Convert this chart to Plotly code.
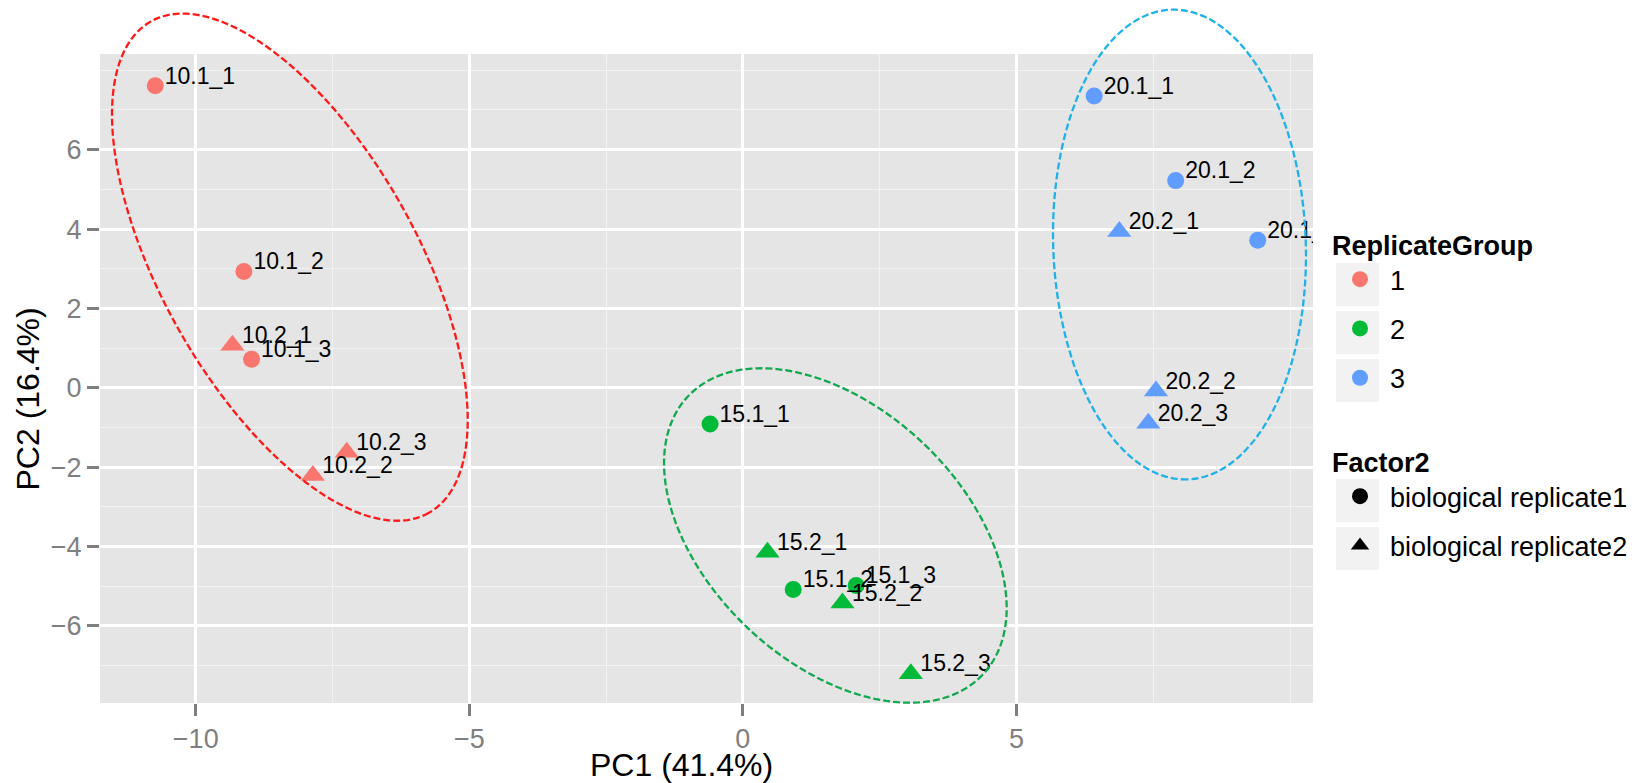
import numpy as np
import plotly.graph_objects as go

# ---------------- data ----------------
sample_names = ["10.1_1", "10.1_2", "10.1_3", "10.2_1", "10.2_2", "10.2_3",
                "15.1_1", "15.1_2", "15.1_3", "15.2_1", "15.2_2", "15.2_3",
                "20.1_1", "20.1_2", "20.1_3", "20.2_1", "20.2_2", "20.2_3"]
pc1 = [-10.74, -9.12, -8.98, -9.33, -7.86, -7.24,
       -0.60, 0.92, 2.07, 0.45, 1.82, 3.07,
       6.42, 7.91, 9.41, 6.88, 7.55, 7.41]
pc2 = [7.61, 2.93, 0.72, 1.07, -2.21, -1.62,
       -0.91, -5.08, -4.98, -4.14, -5.42, -7.20,
       7.35, 5.22, 3.72, 3.94, -0.08, -0.89]
replicate_group = ["1"] * 6 + ["2"] * 6 + ["3"] * 6
factor2 = (["biological replicate1"] * 3 + ["biological replicate2"] * 3) * 3

group_levels = ["1", "2", "3"]
factor_levels = ["biological replicate1", "biological replicate2"]

x_ticks = [-10, -5, 0, 5]
y_ticks = [-6, -4, -2, 0, 2, 4, 6]
x_minor = [-7.5, -2.5, 2.5, 7.5, 10]
y_minor = [-7, -5, -3, -1, 1, 3, 5, 7, 8]

x_title = "PC1 (41.4%)"
y_title = "PC2 (16.4%)"
legend1_title = "ReplicateGroup"
legend2_title = "Factor2"

# hand-drawn group ellipses (centre in PC units)
ellipse_cx = [-8.28, 1.69, 7.98]
ellipse_cy = [3.04, -3.72, 3.61]

# ---------------- style ----------------
FONT = "Liberation Sans, Arial, sans-serif"
group_colors = ["#F8766D", "#00BA38", "#619CFF"]
factor_symbols = ["circle", "triangle-up"]
factor_sizes = [17, 21]
ellipse_colors = ["#FF1A1A", "#12A84E", "#1FB1E8"]
ellipse_a_px = [282.3, 202.7, 235.0]
ellipse_b_px = [127.5, 127.4, 126.3]
ellipse_angle = [60.5, 43.4, 88.0]

W, H = 1651, 783
ML, MR, MT, MB = 100, 338, 54, 80
PW, PH = W - ML - MR, H - MT - MB
XR = [-11.75, 10.42]
YR = [-7.94, 8.41]


def px_x(v):
    return ML + (v - XR[0]) / (XR[1] - XR[0]) * PW


def px_y(v):
    return MT + (YR[1] - v) / (YR[1] - YR[0]) * PH


def paper_x(px):
    return (px - ML) / PW


def paper_y(py):
    return (H - MB - py) / PH


fig = go.Figure()

# points
col_map = dict(zip(group_levels, group_colors))
sym_map = dict(zip(factor_levels, factor_symbols))
size_map = dict(zip(factor_levels, factor_sizes))
fig.add_trace(go.Scatter(
    x=pc1, y=pc2, mode="markers",
    marker=dict(color=[col_map[g] for g in replicate_group],
                symbol=[sym_map[f] for f in factor2],
                size=[size_map[f] for f in factor2],
                line=dict(width=0), opacity=1),
    text=sample_names, showlegend=False, hoverinfo="text"))

# labels (overlay axis shifted a few pixels so text sits like ggplot hjust=0, vjust=0)
dx_px, dy_px = 9.5, 3.5
sx = dx_px * (XR[1] - XR[0]) / PW
sy = dy_px * (YR[1] - YR[0]) / PH
fig.add_trace(go.Scatter(
    x=pc1, y=pc2, mode="text", text=sample_names, textposition="top right",
    textfont=dict(size=23, color="black", family=FONT),
    xaxis="x2", yaxis="y2", showlegend=False, hoverinfo="skip", cliponaxis=True))

# legend entries
for g, c in zip(group_levels, group_colors):
    fig.add_trace(go.Scatter(x=[None], y=[None], mode="markers", name=g,
                             marker=dict(color=c, size=17, symbol="circle"),
                             legend="legend", legendgroup="rg" + g, showlegend=True))
for f, s, sz in zip(factor_levels, factor_symbols, factor_sizes):
    fig.add_trace(go.Scatter(x=[None], y=[None], mode="markers", name=f,
                             marker=dict(color="black", size=sz, symbol=s),
                             legend="legend2", legendgroup="f2" + f, showlegend=True))

shapes = []
# ellipses
t = np.linspace(0, 2 * np.pi, 181)
for cx, cy, col, a, b, ang in zip(ellipse_cx, ellipse_cy, ellipse_colors,
                                  ellipse_a_px, ellipse_b_px, ellipse_angle):
    th = np.deg2rad(ang)
    Cx, Cy = px_x(cx), px_y(cy)
    xs = Cx + a * np.cos(th) * np.cos(t) - b * np.sin(th) * np.sin(t)
    ys = Cy + a * np.sin(th) * np.cos(t) + b * np.cos(th) * np.sin(t)
    path = "M " + " L ".join(f"{paper_x(x):.5f},{paper_y(y):.5f}" for x, y in zip(xs, ys)) + " Z"
    shapes.append(dict(type="path", path=path, xref="paper", yref="paper",
                       line=dict(color=col, width=2.3, dash="7px,3px"), layer="above"))

# legend key backgrounds
key_left, key_size, key_step = 1336, 43, 48
for top0, n in [(263, 3), (479, 2)]:
    for i in range(n):
        y0 = top0 + i * key_step
        shapes.append(dict(type="rect", xref="paper", yref="paper",
                           x0=paper_x(key_left), x1=paper_x(key_left + key_size),
                           y0=paper_y(y0 + key_size), y1=paper_y(y0),
                           fillcolor="#F2F2F2", line=dict(width=0), layer="below"))

axis_common = dict(showline=False, zeroline=False, ticks="outside", ticklen=12,
                   tickwidth=3, tickcolor="#7F7F7F", showgrid=True, gridcolor="white",
                   gridwidth=2.6, tickfont=dict(size=27, color="#7F7F7F", family=FONT))

annotations = [
    dict(text=x_title, xref="paper", yref="paper", x=paper_x(681.6), y=paper_y(764.5),
         xanchor="center", yanchor="middle", showarrow=False,
         font=dict(size=32, color="black", family=FONT)),
    dict(text=y_title, xref="paper", yref="paper", x=paper_x(27.5), y=paper_y(399),
         xanchor="center", yanchor="middle", showarrow=False, textangle=-90,
         font=dict(size=32, color="black", family=FONT)),
]

legend_common = dict(xanchor="left", yanchor="top", xref="paper", yref="paper",
                     bgcolor="rgba(0,0,0,0)", borderwidth=0, itemwidth=50,
                     tracegroupgap=11.2, font=dict(size=27, color="black", family=FONT))

fig.update_layout(
    width=W, height=H,
    margin=dict(l=ML, r=MR, t=MT, b=MB, autoexpand=False),
    paper_bgcolor="white", plot_bgcolor="#E5E5E5",
    font=dict(family=FONT, color="black"),
    xaxis=dict(range=XR, tickvals=x_ticks, **axis_common,
               minor=dict(tickvals=x_minor, showgrid=True, gridcolor="#F2F2F2", gridwidth=1.4, ticks="")),
    yaxis=dict(range=YR, tickvals=y_ticks, **axis_common,
               minor=dict(tickvals=y_minor, showgrid=True, gridcolor="#F2F2F2", gridwidth=1.4, ticks="")),
    xaxis2=dict(range=[XR[0] - sx, XR[1] - sx], overlaying="x", anchor="y2", visible=False),
    yaxis2=dict(range=[YR[0] + sy, YR[1] + sy], overlaying="y", anchor="x2", visible=False),
    legend=dict(x=paper_x(1330), y=paper_y(220), **legend_common,
                title=dict(text=legend1_title, font=dict(size=27, weight="bold", color="black"))),
    legend2=dict(x=paper_x(1330), y=paper_y(437), **legend_common,
                 title=dict(text=legend2_title, font=dict(size=27, weight="bold", color="black"))),
    shapes=shapes,
    annotations=annotations,
)

fig.write_html("out.html", config={"displayModeBar": False},
               post_script="document.body.style.margin='0px';")
